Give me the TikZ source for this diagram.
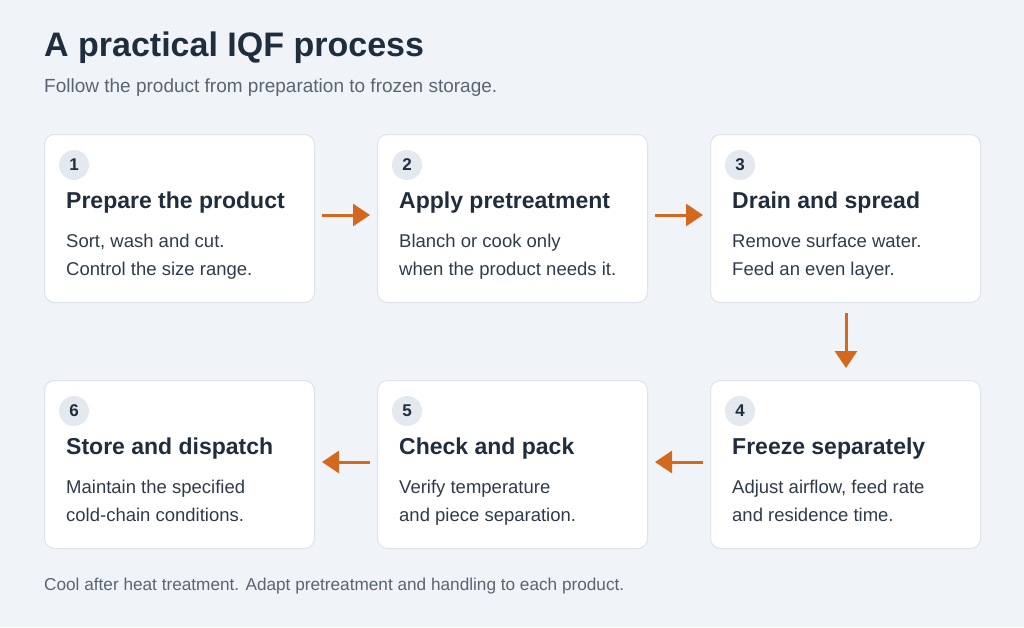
\documentclass[tikz,border=0pt]{standalone}
\usepackage{fontspec}
\setmainfont{Liberation Sans}
\usetikzlibrary{arrows.meta}
\definecolor{bg}{HTML}{F0F3F7}
\definecolor{ink}{HTML}{1F2D3D}
\definecolor{body}{HTML}{2F3B4A}
\definecolor{sub}{HTML}{5A6572}
\definecolor{edge}{HTML}{DDE3EA}
\definecolor{num}{HTML}{E3E9EF}
\definecolor{arr}{HTML}{D2691E}
\begin{document}
\begin{tikzpicture}[x=1pt,y=-1pt,
  box/.style={draw=edge,line width=1pt,fill=white,rounded corners=10pt,minimum width=270pt,minimum height=168pt,anchor=north west,inner sep=0pt},
  numc/.style={circle,fill=num,minimum size=30pt,inner sep=0pt,text=ink,font=\fontsize{17}{18}\selectfont\bfseries},
  ttl/.style={anchor=west,text=ink,font=\fontsize{23}{26}\selectfont\bfseries,inner sep=0pt},
  txt/.style={anchor=north west,text=body,align=left,font=\fontsize{18.5}{28}\selectfont,inner sep=0pt},
  arw/.style={-{Triangle[length=17pt,width=22pt]},line width=3pt,draw=arr}]
\fill[bg] (0,0) rectangle (1024,627);
\useasboundingbox (0,0) rectangle (1024,627);
\node[anchor=west,inner sep=0pt,text=ink,font=\fontsize{34}{38}\selectfont\bfseries] (title) at (44,48) {A practical IQF process};
\node[anchor=west,inner sep=0pt,text=sub,font=\fontsize{19}{22}\selectfont] (subt) at (44,88) {Follow the product from preparation to frozen storage.};
\node[anchor=west,inner sep=0pt,text=sub,font=\fontsize{17.2}{20}\selectfont] (foot) at (44,586) {Cool after heat treatment. Adapt pretreatment and handling to each product.};
\foreach \n/\x/\y/\t/\a/\b in {
 1/44/134/Prepare the product/{Sort, wash and cut.}/Control the size range.,
 2/377/134/Apply pretreatment/Blanch or cook only/when the product needs it.,
 3/710/134/Drain and spread/Remove surface water./Feed an even layer.,
 4/710/380/Freeze separately/{Adjust airflow, feed rate}/and residence time.,
 5/377/380/Check and pack/Verify temperature/and piece separation.,
 6/44/380/Store and dispatch/Maintain the specified/cold-chain conditions.}{
 \node[box] (b\n) at (\x,\y) {};
 \node[numc] (n\n) at ([xshift=30pt,yshift=-31pt]b\n.north west) {\n};
 \node[ttl] (t\n) at ([xshift=22pt,yshift=-69pt]b\n.north west) {\t};
 \node[txt] (d\n) at ([xshift=22pt,yshift=-100pt]b\n.north west) {\a\\\b};
}
\draw[arw] ([xshift=7pt,yshift=-81pt]b1.north east) -- ([xshift=-7pt,yshift=-81pt]b2.north west);
\draw[arw] ([xshift=7pt,yshift=-81pt]b2.north east) -- ([xshift=-7pt,yshift=-81pt]b3.north west);
\draw[arw] ([xshift=-135pt,yshift=-10pt]b3.south east) -- ([xshift=-135pt,yshift=12pt]b4.north east);
\draw[arw] ([xshift=-7pt,yshift=-82pt]b4.north west) -- ([xshift=7pt,yshift=-82pt]b5.north east);
\draw[arw] ([xshift=-7pt,yshift=-82pt]b5.north west) -- ([xshift=7pt,yshift=-82pt]b6.north east);
\end{tikzpicture}
\end{document}
